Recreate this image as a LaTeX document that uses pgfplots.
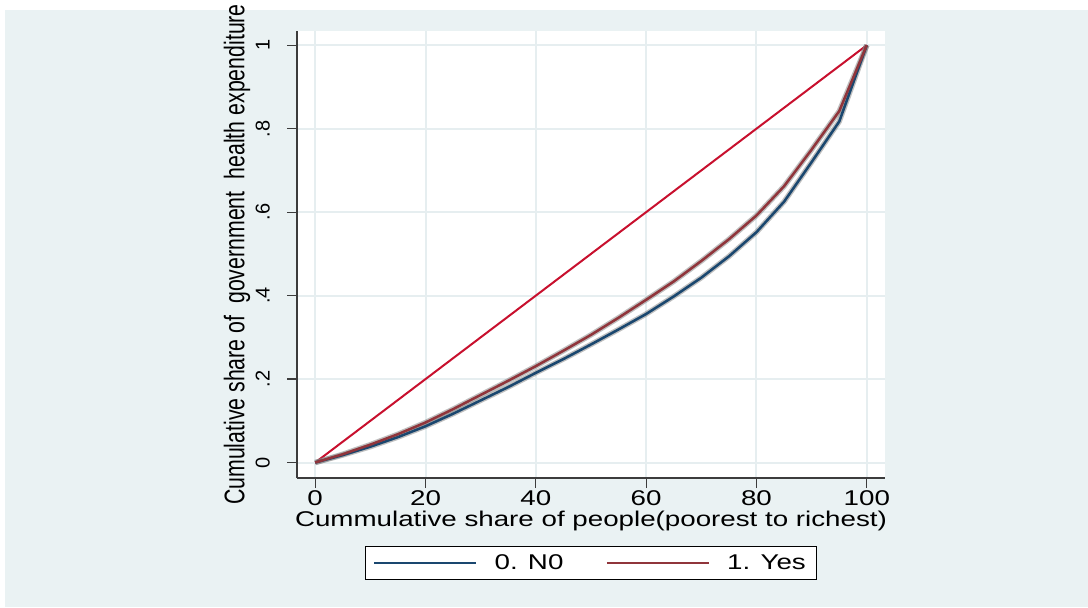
\documentclass[border=0pt]{standalone}
\usepackage{fontspec}
\setmainfont{Liberation Sans}[FakeStretch=1.3]
\newfontfamily\rotfont{Liberation Sans}
\newfontfamily\rotlabfont{Liberation Sans}[FakeStretch=0.75]
\usepackage{pgfplots}
\usepackage{pgfplotstable}
\pgfplotsset{compat=1.18}

\definecolor{stbg}{RGB}{234,242,243}
\definecolor{stgrid}{RGB}{230,238,240}
\definecolor{stnavy}{RGB}{26,71,111}
\definecolor{stmaroon}{RGB}{144,53,59}
\definecolor{eqred}{RGB}{200,16,46}
\definecolor{axgray}{RGB}{60,60,60}

% concentration curves, group 0 (No)
\pgfplotstableread{
x y
0 0
5 0.018
10 0.038
15 0.061
20 0.087
25 0.117
30 0.149
35 0.181
40 0.215
45 0.248
50 0.283
55 0.319
60 0.356
65 0.398
70 0.443
75 0.494
80 0.552
85 0.625
90 0.720
95 0.817
100 1
}\nodata

% group 1 (Yes)
\pgfplotstableread{
x y
0 0
5 0.020
10 0.043
15 0.068
20 0.096
25 0.128
30 0.162
35 0.196
40 0.231
45 0.268
50 0.306
55 0.347
60 0.390
65 0.434
70 0.483
75 0.535
80 0.592
85 0.662
90 0.750
95 0.842
100 1
}\yesdata

\begin{document}
\begin{tikzpicture}
\fill[white] (0pt,0pt) rectangle (816pt,455.25pt);
\fill[stbg] (3.75pt,0pt) rectangle (816pt,447.75pt);
\begin{axis}[
    at={(222.75pt,96.75pt)}, anchor=south west,
    scale only axis, width=441pt, height=335.25pt,
    xmin=-3.3, xmax=103.3, ymin=-0.037, ymax=1.034,
    axis lines*=left,
    axis line style={axgray, line width=1.5pt, -},
    axis background/.style={fill=white},
    tick align=outside, major tick length=7.5pt,
    tick style={axgray, line width=0.9pt},
    xtick={0,20,40,60,80,100}, xticklabels={0,20,40,60,80,100},
    ytick={0,0.2,0.4,0.6,0.8,1}, yticklabels={0,.2,.4,.6,.8,1},
    grid=major, major grid style={stgrid, line width=1.5pt},
    xticklabel style={font=\fontsize{16}{18}\selectfont, inner sep=1.5pt},
    yticklabel style={font=\rotfont\fontsize{15}{17}\selectfont, rotate=90, anchor=south, inner sep=1.5pt, yshift=11.25pt},
    xlabel={Cummulative share of people(poorest to richest)},
    xlabel style={font=\fontsize{16}{18}\selectfont, at={(axis description cs:0.5,-0.1096)}, anchor=base},
    ylabel={Cumulative share of\ \ government\ \ health expenditure},
    ylabel style={font=\rotlabfont\fontsize{21.3}{24}\selectfont, at={(axis description cs:-0.0893,0.5)}, rotate=0, anchor=base},
    legend columns=2,
    legend image code/.code={
        \draw[#1, line width=1.3pt] (0pt,0pt) -- (76.5pt,0pt);
    },
    legend style={at={(0.5,-0.19)}, anchor=center, draw=black, line width=0.9pt,
        fill=white, font=\fontsize{16}{18}\selectfont,
        inner xsep=6pt, inner ysep=4pt, nodes={inner sep=2pt},
        /tikz/every odd column/.append style={column sep=11pt},
        /tikz/every even column/.append style={column sep=30pt}},
]
\addplot[eqred, line width=1.5pt, forget plot] coordinates {(0,0) (100,1)};
\addplot[gray, opacity=0.5, line width=4pt, forget plot] table[x=x, y=y] {\nodata};
\addplot[gray, opacity=0.5, line width=4pt, forget plot] table[x=x, y=y] {\yesdata};
\addplot[stnavy, line width=1.9pt] table[x=x, y=y] {\nodata};
\addplot[stmaroon, line width=1.9pt] table[x=x, y=y] {\yesdata};
\legend{0. N0, 1. Yes}
\end{axis}
\pgfresetboundingbox
\path[use as bounding box] (0pt,0pt) rectangle (816pt,455.25pt);
\end{tikzpicture}
\end{document}
